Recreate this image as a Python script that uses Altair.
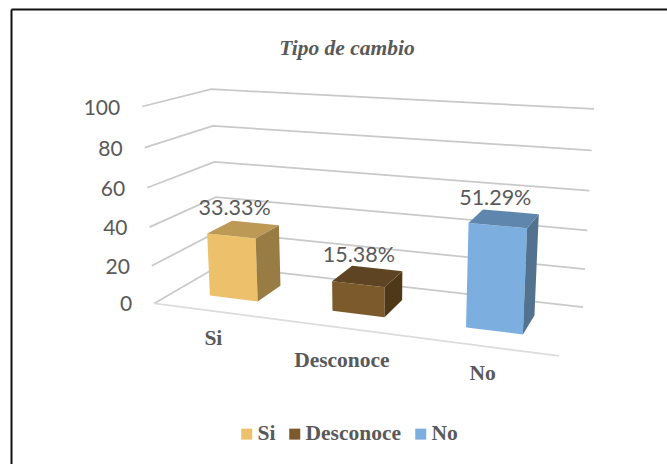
import altair as alt
import numpy as np
import pandas as pd

# Chart content
CATEGORIES = ["Si", "Desconoce", "No"]
VALUES = [33.33, 15.38, 51.29]
TICKS = [0, 20, 40, 60, 80, 100]
TITLE = "Tipo de cambio"

# Face colours of each column
FRONT = ["#EDC16B", "#7C5A2B", "#7CAEE0"]
TOP = ["#BC9A55", "#5E4422", "#5F86AD"]
SIDE = ["#997C44", "#4F3818", "#52728F"]
GRID = "#C9C9C9"
FLOOR_EDGE = "#DCDCDC"
TEXT = "#595959"
SERIF = "Liberation Serif"
SANS = "Lato"

# Canvas and the 3-D view: box corners (category, value, depth) -> screen plane
LEFT, TOP_EDGE, RIGHT, BOTTOM = 11, 9, 667, 464
BAR_HALF_WIDTH = 0.2
BAR_DEPTH = (0.3, 0.7)
CATEGORY_LABEL_DROP = [28, 33, 28]
VIEW_CORNERS = [
    (0, 0, 0, 154, 303), (3, 0, 0, 559.3, 356), (3, 0, 1, 582.7, 307), (0, 0, 1, 219, 266.5),
    (0, 100, 0, 142, 107), (0, 100, 1, 211.5, 89), (3, 100, 1, 594, 109),
    (0, 40, 0, 149.7, 227), (0, 40, 1, 215.7, 196.7), (3, 40, 1, 587.3, 230.3),
]


def solve_camera(corners):
    """Least-squares projective camera through the box corners."""
    rows, rhs = [], []
    for u, v, d, sx, sy in corners:
        p = [u, v / 100, d, 1]
        rows.append(p + [0, 0, 0, 0] + [-sx * c for c in p[:3]])
        rhs.append(sx)
        rows.append([0, 0, 0, 0] + p + [-sy * c for c in p[:3]])
        rhs.append(sy)
    m = np.linalg.lstsq(np.array(rows, float), np.array(rhs, float), rcond=None)[0]
    return np.append(m, 1.0).reshape(3, 4)


CAMERA = solve_camera(VIEW_CORNERS)


def project(u, v, d):
    sx, sy, w = CAMERA @ np.array([u, v / 100, d, 1.0])
    return float(sx / w), float(sy / w)


def face_rows(name, corners, **extra):
    """Split a convex face into x-ordered top and bottom chains for an area mark."""
    pts = [project(*c) for c in corners]
    rows = []
    for x in sorted({p[0] for p in pts}):
        ys = []
        for (x0, y0), (x1, y1) in zip(pts, pts[1:] + pts[:1]):
            if min(x0, x1) <= x <= max(x0, x1):
                if x0 == x1:
                    ys += [y0, y1]
                else:
                    ys.append(y0 + (y1 - y0) * (x - x0) / (x1 - x0))
        rows.append({"face": name, "x": x, "y": min(ys), "y2": max(ys), **extra})
    return rows


# Gridlines run along the left wall and then the back wall
grid_rows = []
for t in TICKS:
    for i, (u, d) in enumerate([(0, 0), (0, 1), (3, 1)]):
        sx, sy = project(u, t, d)
        grid_rows.append({"line": t, "x": sx, "y": sy, "step": i})
front_edge = pd.DataFrame(
    [{"x": project(u, 0, 0)[0], "y": project(u, 0, 0)[1]} for u in (0, 3)]
)

front_rows, shaded_rows, value_rows, category_rows = [], [], [], []
for i, (cat, val) in enumerate(zip(CATEGORIES, VALUES)):
    u0, u1 = i + 0.5 - BAR_HALF_WIDTH, i + 0.5 + BAR_HALF_WIDTH
    d0, d1 = BAR_DEPTH
    front_rows += face_rows(
        f"{cat}-front", [(u0, val, d0), (u1, val, d0), (u1, 0, d0), (u0, 0, d0)], category=cat
    )
    shaded_rows += face_rows(
        f"{cat}-side", [(u1, val, d0), (u1, val, d1), (u1, 0, d1), (u1, 0, d0)], shade=SIDE[i]
    )
    shaded_rows += face_rows(
        f"{cat}-top", [(u0, val, d0), (u1, val, d0), (u1, val, d1), (u0, val, d1)], shade=TOP[i]
    )
    sx, sy = project(i + 0.5, val, 0.5)
    value_rows.append({"x": sx, "y": sy, "label": f"{val:.2f}%"})
    sx, sy = project(i + 0.5, 0, 0)
    category_rows.append({"x": sx, "y": sy + CATEGORY_LABEL_DROP[i], "label": cat})

tick_rows = []
for t in TICKS:
    sx, sy = project(0, t, 0)
    tick_rows.append({"x": sx, "y": sy, "label": str(t)})

# The two axes only draw the heavy top and left frame lines
frame_axis = dict(
    labels=False, ticks=False, grid=False, title=None,
    domainColor="#111111", domainWidth=2,
)
X = alt.X(
    "x:Q",
    scale=alt.Scale(domain=[LEFT, RIGHT], nice=False, zero=False),
    axis=alt.Axis(orient="top", **frame_axis),
)
Y = alt.Y(
    "y:Q",
    scale=alt.Scale(domain=[BOTTOM, TOP_EDGE], nice=False, zero=False),
    axis=alt.Axis(orient="left", **frame_axis),
)

grid = alt.Chart(pd.DataFrame(grid_rows)).mark_line(color=GRID, strokeWidth=1.75).encode(
    x=X, y=Y, detail="line:N", order="step:Q"
)
floor = alt.Chart(front_edge).mark_line(color=FLOOR_EDGE, strokeWidth=1.75).encode(x=X, y=Y)

front = alt.Chart(pd.DataFrame(front_rows)).mark_area(opacity=1).encode(
    x=X, y=Y, y2="y2:Q", detail="face:N",
    color=alt.Color(
        "category:N",
        scale=alt.Scale(domain=CATEGORIES, range=FRONT),
        legend=alt.Legend(
            orient="none", legendX=222, legendY=414, direction="horizontal", title=None,
            symbolType="square", symbolSize=121, symbolStrokeWidth=0,
            symbolOffset=3, labelOffset=0,
            labelFont=SERIF, labelFontSize=21.5, labelFontWeight="bold", labelColor=TEXT,
            columnPadding=5,
        ),
    ),
)
shaded = alt.Chart(pd.DataFrame(shaded_rows)).mark_area(opacity=1).encode(
    x=X, y=Y, y2="y2:Q", detail="face:N", fill=alt.Fill("shade:N", scale=None)
)

value_text = alt.Chart(pd.DataFrame(value_rows)).mark_text(
    font=SANS, fontSize=21.5, color=TEXT, dx=-9, dy=-20, baseline="middle"
).encode(x=X, y=Y, text="label:N")
tick_text = alt.Chart(pd.DataFrame(tick_rows)).mark_text(
    font=SANS, fontSize=21, color=TEXT, dx=-22, dy=2, align="right", baseline="middle"
).encode(x=X, y=Y, text="label:N")
category_text = alt.Chart(pd.DataFrame(category_rows)).mark_text(
    font=SERIF, fontSize=21.5, fontWeight="bold", color=TEXT, dx=-1, baseline="middle"
).encode(x=X, y=Y, text="label:N")

chart = alt.layer(grid, floor, front, shaded, value_text, tick_text, category_text).properties(
    width=RIGHT - LEFT,
    height=BOTTOM - TOP_EDGE,
    padding={"left": LEFT, "top": TOP_EDGE, "right": 0, "bottom": 0},
    autosize=alt.AutoSizeParams(type="none"),
    title=alt.TitleParams(
        TITLE, font=SERIF, fontSize=21.5, fontWeight="bold", fontStyle="italic",
        color=TEXT, anchor="middle", offset=-50, dx=8,
    ),
).configure_view(stroke=None)

chart.save("out.html", embed_options={"renderer": "svg", "actions": False})
